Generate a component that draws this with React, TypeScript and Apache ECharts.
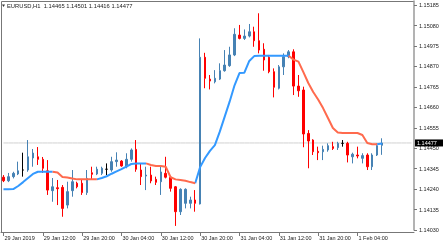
import React, { useEffect, useRef } from "react";
import * as echarts from "echarts";

const symbolTitle = "EURUSD,H1";
const lastQuote = ["1.14465", "1.14501", "1.14416", "1.14477"];
const lastPrice = 1.14477;

const tickLabels = [
  "29 Jan 2019", "29 Jan 12:00", "29 Jan 20:00", "30 Jan 04:00", "30 Jan 12:00",
  "30 Jan 20:00", "31 Jan 04:00", "31 Jan 12:00", "31 Jan 20:00", "1 Feb 04:00",
];

const opens = [
  1.14301, 1.14283, 1.14304, 1.14318, 1.14338, 1.14338, 1.14400, 1.14406, 1.14393, 1.14334,
  1.14232, 1.14247, 1.14249, 1.14158, 1.14232, 1.14270, 1.14270, 1.14222, 1.14324, 1.14318,
  1.14321, 1.14342, 1.14338, 1.14381, 1.14384, 1.14355, 1.14393, 1.14444, 1.14338, 1.14307,
  1.14312, 1.14290, 1.14278, 1.14321, 1.14301, 1.14252, 1.14124, 1.14167, 1.14167, 1.14184,
  1.14164, 1.14917, 1.14805, 1.14791, 1.14805, 1.14848, 1.14874, 1.14929, 1.15031, 1.15014,
  1.15026, 1.15048, 1.15002, 1.14958, 1.14917, 1.14843, 1.14758, 1.14868, 1.14920, 1.14945,
  1.14769, 1.14749, 1.14526, 1.14492, 1.14434, 1.14432, 1.14441, 1.14458, 1.14453, 1.14475,
  1.14475, 1.14406, 1.14415, 1.14398, 1.14415, 1.14355, 1.14415, 1.14465,
];
const closes = [
  1.14283, 1.14304, 1.14321, 1.14334, 1.14338, 1.14406, 1.14425, 1.14393, 1.14347, 1.14235,
  1.14252, 1.14242, 1.14141, 1.14227, 1.14278, 1.14252, 1.14222, 1.14295, 1.14316, 1.14342,
  1.14347, 1.14342, 1.14381, 1.14389, 1.14359, 1.14393, 1.14441, 1.14342, 1.14304, 1.14312,
  1.14282, 1.14275, 1.14328, 1.14301, 1.14244, 1.14124, 1.14239, 1.14239, 1.14184, 1.14167,
  1.14917, 1.14809, 1.14795, 1.14809, 1.14848, 1.14877, 1.14929, 1.15035, 1.15014, 1.15026,
  1.15048, 1.15002, 1.14954, 1.14903, 1.14843, 1.14763, 1.14868, 1.14920, 1.14945, 1.14769,
  1.14745, 1.14523, 1.14487, 1.14432, 1.14427, 1.14444, 1.14463, 1.14449, 1.14475, 1.14475,
  1.14415, 1.14419, 1.14410, 1.14412, 1.14355, 1.14415, 1.14463, 1.14477,
];
const lows = [
  1.14276, 1.14276, 1.14295, 1.14312, 1.14304, 1.14329, 1.14355, 1.14364, 1.14323, 1.14210,
  1.14175, 1.14158, 1.14098, 1.14141, 1.14201, 1.14244, 1.14210, 1.14210, 1.14287, 1.14312,
  1.14312, 1.14312, 1.14329, 1.14355, 1.14355, 1.14347, 1.14381, 1.14329, 1.14261, 1.14235,
  1.14270, 1.14261, 1.14210, 1.14295, 1.14227, 1.14051, 1.14107, 1.14141, 1.14141, 1.14124,
  1.14161, 1.14758, 1.14752, 1.14783, 1.14800, 1.14843, 1.14868, 1.14923, 1.15009, 1.15006,
  1.15019, 1.14971, 1.14937, 1.14848, 1.14835, 1.14711, 1.14752, 1.14826, 1.14912, 1.14723,
  1.14714, 1.14455, 1.14347, 1.14415, 1.14389, 1.14389, 1.14432, 1.14441, 1.14441, 1.14458,
  1.14377, 1.14372, 1.14398, 1.14372, 1.14338, 1.14338, 1.14410, 1.14416,
];
const highs = [
  1.14312, 1.14323, 1.14329, 1.14381, 1.14427, 1.14492, 1.14446, 1.14456, 1.14405, 1.14389,
  1.14297, 1.14287, 1.14261, 1.14278, 1.14338, 1.14278, 1.14292, 1.14338, 1.14355, 1.14355,
  1.14355, 1.14372, 1.14406, 1.14429, 1.14389, 1.14424, 1.14449, 1.14492, 1.14372, 1.14355,
  1.14355, 1.14304, 1.14355, 1.14406, 1.14307, 1.14256, 1.14244, 1.14244, 1.14201, 1.14235,
  1.15014, 1.14940, 1.14826, 1.14851, 1.14886, 1.14954, 1.14971, 1.15066, 1.15083, 1.15060,
  1.15088, 1.15074, 1.15143, 1.14989, 1.14929, 1.14860, 1.14877, 1.14937, 1.14954, 1.14958,
  1.14826, 1.14766, 1.14543, 1.14496, 1.14458, 1.14463, 1.14475, 1.14483, 1.14483, 1.14492,
  1.14483, 1.14427, 1.14458, 1.14424, 1.14424, 1.14424, 1.14475, 1.14501,
];

const maValues = [
  1.14239, 1.14239, 1.14240, 1.14256, 1.14276, 1.14297, 1.14318, 1.14329, 1.14329, 1.14329,
  1.14329, 1.14325, 1.14302, 1.14300, 1.14294, 1.14290, 1.14290, 1.14290, 1.14290, 1.14290,
  1.14297, 1.14306, 1.14319, 1.14331, 1.14343, 1.14356, 1.14369, 1.14372, 1.14372, 1.14372,
  1.14364, 1.14359, 1.14359, 1.14355, 1.14301, 1.14290, 1.14287, 1.14283, 1.14276, 1.14270,
  1.14353, 1.14400, 1.14436, 1.14466, 1.14535, 1.14612, 1.14689, 1.14773, 1.14836, 1.14838,
  1.14898, 1.14923, 1.14925, 1.14925, 1.14925, 1.14925, 1.14925, 1.14925, 1.14925, 1.14905,
  1.14895, 1.14841, 1.14785, 1.14739, 1.14700, 1.14656, 1.14605, 1.14554, 1.14531, 1.14528,
  1.14528, 1.14528, 1.14528, 1.14518, 1.14477, 1.14470, 1.14470, 1.14474,
];
// colour state of the indicator segment ending at each bar: [bar count, state]
const maTrendRuns: [number, "up" | "down"][] = [
  [11, "up"], [9, "down"], [10, "up"], [10, "down"], [19, "up"], [18, "down"], [1, "up"],
];

const emptyBarsRight = 6;
const FONT = "'Liberation Sans', Arial, sans-serif";

export default function App() {
  const ref = useRef<HTMLDivElement>(null);

  useEffect(() => {
    const chart = echarts.init(ref.current!, null, { renderer: "svg" });

    const n = opens.length;
    const months = ["Jan", "Feb", "Mar"];
    const start = Date.UTC(2019, 0, 29, 4);
    const categories: string[] = [];
    for (let i = 0; i < n + emptyBarsRight; i++) {
      const d = new Date(start + i * 3600000);
      const hh = String(d.getUTCHours()).padStart(2, "0");
      categories.push(`${d.getUTCDate()} ${months[d.getUTCMonth()]} ${hh}:00`);
    }

    const candles = opens.map((o, i) => [o, closes[i], lows[i], highs[i]]);

    const trend: string[] = [];
    maTrendRuns.forEach(([count, s]) => {
      for (let k = 0; k < count; k++) trend.push(s);
    });
    const upLine = maValues.map((v, i) =>
      trend[i] === "up" || trend[i + 1] === "up" ? v : null
    );
    const downLine = maValues.map((v, i) =>
      trend[i] === "down" || trend[i + 1] === "down" ? v : null
    );

    const labelEvery = (i: number) => i % 8 === 0 && i / 8 < tickLabels.length;

    chart.setOption({
      animation: false,
      textStyle: { fontFamily: FONT },
      grid: { left: 1, right: 29, top: 1, bottom: 16, containLabel: false },
      xAxis: {
        type: "category",
        data: categories,
        boundaryGap: true,
        offset: 2,
        axisLine: { show: true, lineStyle: { color: "#777", width: 1 } },
        axisTick: {
          show: true,
          alignWithLabel: true,
          interval: (i: number) => labelEvery(i),
          length: 4,
          lineStyle: { color: "#777" },
        },
        axisLabel: {
          interval: (i: number) => labelEvery(i),
          formatter: (_v: string, i: number) => tickLabels[i / 8] ?? "",
          align: "left",
          fontSize: 5.5,
          color: "#222",
          margin: 3,
          padding: [0, 0, 0, 1],
          fontFamily: FONT,
        },
        splitLine: { show: false },
      },
      yAxis: {
        type: "value",
        position: "right",
        min: 1.1403,
        max: 1.15206,
        interval: 0.00105,
        axisLine: { show: true, lineStyle: { color: "#9a9a9a", width: 1.5 } },
        axisTick: { show: true, length: 3, lineStyle: { color: "#777" } },
        axisLabel: {
          fontSize: 5.5,
          color: "#222",
          margin: 5,
          showMaxLabel: false,
          formatter: (v: number) => v.toFixed(5),
          fontFamily: FONT,
        },
        splitLine: { show: false },
      },
      series: [
        {
          type: "line",
          data: categories.map(() => lastPrice),
          showSymbol: false,
          silent: true,
          z: 1,
          lineStyle: { color: "#d2d2d2", width: 1 },
          itemStyle: { color: "#d2d2d2" },
        },
        {
          type: "candlestick",
          data: candles,
          barWidth: 2,
          z: 2,
          itemStyle: {
            color: "#4682b4",
            color0: "#ff0000",
            borderColor: "#4682b4",
            borderColor0: "#ff0000",
            borderColorDoji: "#000000",
            borderWidth: 1,
          },
        },
        {
          type: "line",
          data: upLine,
          showSymbol: false,
          connectNulls: false,
          z: 3,
          lineStyle: { color: "#3399ff", width: 2 },
          itemStyle: { color: "#3399ff" },
        },
        {
          type: "line",
          data: downLine,
          showSymbol: false,
          connectNulls: false,
          z: 3,
          lineStyle: { color: "#ff6a4d", width: 2 },
          itemStyle: { color: "#ff6a4d" },
        },
      ],
    });

    const py = chart.convertToPixel({ yAxisIndex: 0 }, lastPrice) as number;

    chart.setOption({
      graphic: [
        {
          id: "frameTop",
          type: "line",
          shape: { x1: 1.5, y1: 1.5, x2: 414, y2: 1.5 },
          style: { stroke: "#777", lineWidth: 1 },
        },
        {
          id: "frameLeft",
          type: "line",
          shape: { x1: 1.5, y1: 1.5, x2: 1.5, y2: 232 },
          style: { stroke: "#777", lineWidth: 1 },
        },
        {
          id: "menuArrow",
          type: "polygon",
          shape: { points: [[2, 4.5], [5, 4.5], [3.5, 7]] },
          style: { fill: "#333" },
        },
        {
          id: "title",
          type: "text",
          left: 7,
          top: 3,
          style: {
            text: `${symbolTitle}  ${lastQuote.join(" ")}`,
            fontSize: 5.8,
            fill: "#222",
            fontFamily: FONT,
          },
        },
        {
          id: "priceBadge",
          type: "rect",
          z: 100,
          shape: { x: 415, y: py - 3.5, width: 28, height: 7 },
          style: { fill: "#000" },
        },
        {
          id: "priceBadgeText",
          type: "text",
          z: 101,
          x: 417,
          y: py,
          style: {
            text: lastQuote[3],
            fontSize: 5.5,
            fill: "#fff",
            fontFamily: FONT,
            verticalAlign: "middle",
            align: "left",
          },
        },
      ],
    });

    return () => chart.dispose();
  }, []);

  return (
    <div
      ref={ref}
      style={{ position: "fixed", left: 0, top: 0, width: 443, height: 246 }}
    />
  );
}
